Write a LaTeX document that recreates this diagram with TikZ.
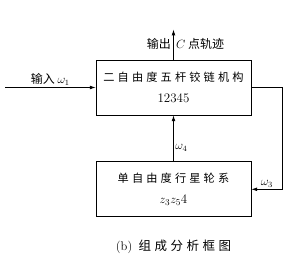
\documentclass[tikz,border=0pt]{standalone}
\usepackage{fontspec}
\newfontfamily\cjk[LetterSpace=28]{Noto Sans CJK SC}
\newfontfamily\cjktight{Noto Sans CJK SC}
\usetikzlibrary{arrows.meta, positioning, calc}
\tikzset{
  blk/.style={rectangle, draw=black, line width=0.8pt, minimum width=155pt,
              minimum height=55pt, align=center, font=\cjk\fontsize{11.2}{21}\selectfont},
  sig/.style={-{Latex[length=2mm, width=1.3mm]}, draw=black, line width=0.6pt},
  lbl/.style={font=\cjktight\fontsize{12}{14}\selectfont, inner sep=1.5pt},
  captxt/.style={font=\cjk\fontsize{12.5}{14}\selectfont, inner sep=1pt},
}
\begin{document}
\begin{tikzpicture}[x=1pt, y=1pt]
      \useasboundingbox (0,0) rectangle (290,259);
      \node[blk] (five) at (173.5,171.5) {二自由度五杆铰链机构\\{\normalfont\fontsize{13}{15}\selectfont 12345}};
      \node[blk, below=46pt of five] (gear) {单自由度行星轮系\\{\normalfont\fontsize{13}{15}\selectfont $z_3z_5$4}};
      \coordinate (in) at (5,171.5);
      \coordinate[above=30pt of five.north] (out);
      \draw[sig] (in) -- (five.west) node[lbl, midway, above] {输入 $\omega_1$};
      \draw[sig] (five.north) -- (out);
      \node[lbl, anchor=east] (outa) at ([xshift=-1pt, yshift=16pt]five.north) {输出};
      \node[lbl, anchor=west] (outb) at ([xshift=1pt, yshift=16pt]five.north) {$C$ 点轨迹};
      \draw[sig] (gear.north) -- (five.south) node[lbl, pos=0.3, right] {$\omega_4$};
      \draw[sig] (five.east) -- ++(31,0) |- (gear.east) node[lbl, pos=0.75, above] {$\omega_3$};
      \node[captxt, below=22pt of gear] (caption) {{\normalfont (b)} 组成分析框图};
    \end{tikzpicture}
\end{document}
